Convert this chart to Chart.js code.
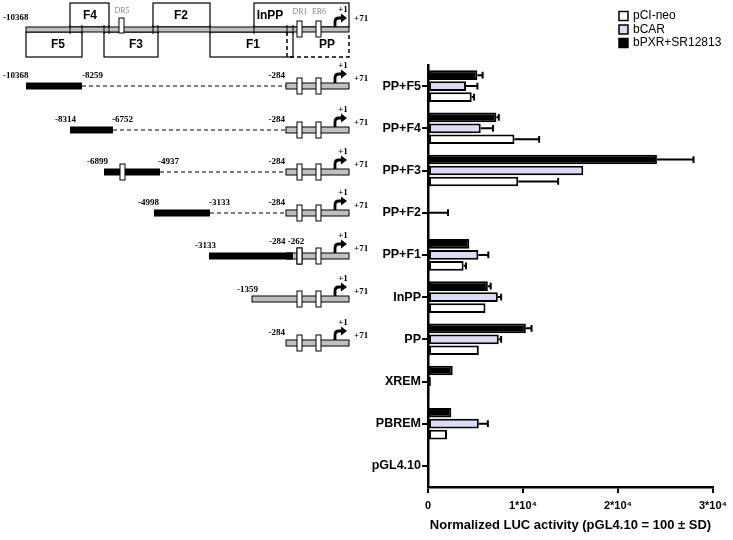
<!DOCTYPE html>
<html>
<head>
<meta charset="utf-8">
<script src="https://cdn.jsdelivr.net/npm/chart.js@4"></script>
<style>
  body { margin: 0; background: #fff; }
</style>
</head>
<body>
<canvas id="myChart" width="733" height="540"></canvas>
<script>
// data
const categories = ["PP+F5", "PP+F4", "PP+F3", "PP+F2", "PP+F1", "InPP", "PP", "XREM", "PBREM", "pGL4.10"];
const pciNeo = [4600, 9100, 9500, 100, 3750, 6050, 5350, 150, 2000, 100];
const pciNeoSd = [250, 2600, 4200, 0, 250, 0, 0, 0, 0, 0];
const bCar = [4000, 5550, 16350, 100, 5300, 7350, 7450, 300, 5350, 100];
const bCarSd = [1200, 1300, 0, 2000, 1050, 350, 250, 0, 950, 0];
const bPxr = [5200, 7200, 24100, 100, 4350, 6300, 10300, 2600, 2450, 100];
const bPxrSd = [550, 250, 3850, 0, 0, 300, 600, 0, 0, 0];
const xTicks = [0, 10000, 20000, 30000];

const sans = "'Liberation Sans', Arial, sans-serif";
const serif = "'Liberation Serif', 'Times New Roman', serif";

// error bars (positive side only, with cap)
const errorBars = {
  id: "errorBars",
  afterDatasetsDraw(chart) {
    const ctx = chart.ctx;
    const x = chart.scales.x;
    ctx.save();
    ctx.strokeStyle = "#000";
    ctx.lineWidth = 2;
    chart.data.datasets.forEach((ds, i) => {
      const meta = chart.getDatasetMeta(i);
      meta.data.forEach((bar, j) => {
        const sd = ds.sd[j];
        if (!sd) return;
        const x1 = x.getPixelForValue(ds.data[j]);
        const x2 = x.getPixelForValue(ds.data[j] + sd);
        const h = bar.height * 0.7;
        ctx.beginPath();
        ctx.moveTo(x1, bar.y);
        ctx.lineTo(x2, bar.y);
        ctx.moveTo(x2, bar.y - h / 2);
        ctx.lineTo(x2, bar.y + h / 2);
        ctx.stroke();
      });
    });
    ctx.restore();
  },
};

// legend, top right
const boxLegend = {
  id: "boxLegend",
  afterDraw(chart) {
    const ctx = chart.ctx;
    const items = [
      ["pCI-neo", "#ffffff"],
      ["bCAR", "#dcdcf6"],
      ["bPXR+SR12813", "#000000"],
    ];
    ctx.save();
    ctx.font = "12px " + sans;
    ctx.textBaseline = "middle";
    items.forEach((it, k) => {
      const y = 16 + k * 13.5;
      ctx.fillStyle = it[1];
      ctx.fillRect(619, y - 4.5, 9, 9);
      ctx.strokeStyle = "#000";
      ctx.lineWidth = 1.5;
      ctx.strokeRect(619, y - 4.5, 9, 9);
      ctx.fillStyle = "#000";
      ctx.fillText(it[0], 633, y);
    });
    ctx.restore();
  },
};

// construct diagram on the left
function ppSegment(ctx, y, from) {
  ctx.fillStyle = "#c0c0c0";
  ctx.strokeStyle = "#000";
  ctx.lineWidth = 1;
  ctx.fillRect(from, y - 3, 349 - from, 6);
  ctx.strokeRect(from, y - 3, 349 - from, 6);
  [297, 316].forEach(bx => {
    ctx.fillStyle = "#fff";
    ctx.fillRect(bx, y - 8, 5, 16);
    ctx.strokeRect(bx, y - 8, 5, 16);
  });
  arrow(ctx, y - 3);
  ctx.fillStyle = "#000";
  ctx.font = "bold 9px " + serif;
  ctx.textAlign = "center";
  ctx.fillText("+1", 343, y - 20);
  ctx.textAlign = "left";
  ctx.fillText("+71", 354, y - 7);
}

function arrow(ctx, top) {
  ctx.save();
  ctx.strokeStyle = "#000";
  ctx.fillStyle = "#000";
  ctx.lineWidth = 2.8;
  ctx.beginPath();
  ctx.moveTo(335, top);
  ctx.lineTo(335, top - 5);
  ctx.quadraticCurveTo(335, top - 9, 339, top - 9);
  ctx.lineTo(342, top - 9);
  ctx.stroke();
  ctx.beginPath();
  ctx.moveTo(347, top - 9);
  ctx.lineTo(341, top - 13.5);
  ctx.lineTo(341, top - 4.5);
  ctx.closePath();
  ctx.fill();
  ctx.restore();
}

function txt(ctx, s, x, y, align) {
  ctx.textAlign = align || "left";
  ctx.fillText(s, x, y);
}

const diagram = {
  id: "diagram",
  afterDraw(chart) {
    const ctx = chart.ctx;
    ctx.save();
    ctx.textBaseline = "middle";

    // genome map
    ctx.strokeStyle = "#000";
    ctx.lineWidth = 1.2;
    [[70, 109], [153, 210], [254, 349]].forEach(b => ctx.strokeRect(b[0], 3, b[1] - b[0], 24));
    [[26, 82], [104, 158], [210, 293]].forEach(b => ctx.strokeRect(b[0], 32, b[1] - b[0], 25));
    ctx.setLineDash([4, 3]);
    ctx.lineWidth = 1.5;
    ctx.beginPath();
    ctx.moveTo(287, 32); ctx.lineTo(287, 57); ctx.lineTo(349, 57); ctx.lineTo(349, 32);
    ctx.stroke();
    ctx.setLineDash([]);
    ctx.fillStyle = "#c0c0c0";
    ctx.lineWidth = 1;
    ctx.fillRect(26, 27, 323, 5);
    ctx.strokeRect(26, 27, 323, 5);
    ctx.beginPath();
    [70, 82, 104, 109, 153, 158, 210, 254, 287, 293].forEach(t => {
      ctx.moveTo(t, 25); ctx.lineTo(t, 34);
    });
    ctx.stroke();
    ctx.fillStyle = "#fff";
    ctx.fillRect(119, 18, 5, 15); ctx.strokeRect(119, 18, 5, 15);
    ctx.fillRect(297, 21, 5, 16); ctx.strokeRect(297, 21, 5, 16);
    ctx.fillRect(316, 21, 5, 16); ctx.strokeRect(316, 21, 5, 16);
    arrow(ctx, 27);

    ctx.fillStyle = "#000";
    ctx.font = "bold 12px " + sans;
    txt(ctx, "F4", 90, 16, "center");
    txt(ctx, "F2", 181, 16, "center");
    txt(ctx, "InPP", 270, 16, "center");
    txt(ctx, "F5", 58, 45, "center");
    txt(ctx, "F3", 136, 45, "center");
    txt(ctx, "F1", 253, 45, "center");
    txt(ctx, "PP", 327, 45, "center");
    ctx.font = "8px " + serif;
    ctx.fillStyle = "#888";
    txt(ctx, "DR5", 122, 11, "center");
    txt(ctx, "DR1", 300, 12, "center");
    txt(ctx, "ER6", 319, 12, "center");
    ctx.fillStyle = "#000";
    ctx.font = "bold 9px " + serif;
    txt(ctx, "+1", 343, 10, "center");
    txt(ctx, "-10368", 3, 18);
    txt(ctx, "+71", 354, 19);

    // construct rows: [y, fragment start, fragment end, labels]
    const rows = [
      [86, 26, 82, [["-10368", 3, -10], ["-8259", 82, -10]]],
      [130, 70, 113, [["-8314", 55, -10], ["-6752", 112, -10]]],
      [172, 104, 160, [["-6899", 87, -10], ["-4937", 158, -10]]],
      [213, 154, 210, [["-4998", 138, -10], ["-3133", 209, -10]]],
      [256, 209, 293, [["-3133", 195, -10]]],
    ];
    rows.forEach(r => {
      const y = r[0];
      if (r[2] < 286) {
        ctx.strokeStyle = "#000";
        ctx.lineWidth = 1;
        ctx.setLineDash([4, 3]);
        ctx.beginPath();
        ctx.moveTo(r[2], y); ctx.lineTo(286, y);
        ctx.stroke();
        ctx.setLineDash([]);
      }
      ppSegment(ctx, y, 286);
      ctx.fillStyle = "#000";
      ctx.fillRect(r[1], y - 3.5, r[2] - r[1], 7);
      if (y === 172) {
        ctx.fillStyle = "#fff";
        ctx.fillRect(120, y - 8, 5, 16);
        ctx.strokeRect(120, y - 8, 5, 16);
      }
      if (y === 256) {
        ctx.fillStyle = "#fff";
        ctx.fillRect(297, y - 8, 5, 16);
        ctx.strokeRect(297, y - 8, 5, 16);
      }
      ctx.fillStyle = "#000";
      ctx.font = "bold 9px " + serif;
      r[3].forEach(l => txt(ctx, l[0], l[1], y + l[2]));
      if (y === 256) {
        txt(ctx, "-284 -262", 269, y - 14);
      } else {
        txt(ctx, "-284", 285, y - 10, "right");
      }
    });
    ppSegment(ctx, 299, 252);
    ctx.fillStyle = "#000";
    txt(ctx, "-1359", 237, 290);
    ppSegment(ctx, 343, 286);
    ctx.fillStyle = "#000";
    txt(ctx, "-284", 285, 333, "right");
    ctx.restore();
  },
};

const ctx = document.getElementById("myChart");

new Chart(ctx, {
  type: "bar",
  data: {
    labels: categories,
    datasets: [
      { label: "bPXR+SR12813", data: bPxr, sd: bPxrSd, backgroundColor: "#000000" },
      { label: "bCAR", data: bCar, sd: bCarSd, backgroundColor: "#dcdcf6" },
      { label: "pCI-neo", data: pciNeo, sd: pciNeoSd, backgroundColor: "#ffffff" },
    ].map(d => Object.assign(d, {
      borderColor: "#000",
      borderWidth: 2,
      borderSkipped: false,
      categoryPercentage: 0.78,
      barPercentage: 0.88,
    })),
  },
  options: {
    indexAxis: "y",
    responsive: false,
    animation: false,
    layout: { padding: { top: 65, right: 16, left: 0, bottom: 0 } },
    plugins: {
      legend: { display: false },
      tooltip: { enabled: false },
    },
    scales: {
      y: {
        afterFit: s => { s.width = 428; },
        grid: { offset: false, drawOnChartArea: false, tickLength: 6, color: "#000", lineWidth: 2 },
        border: { color: "#000", width: 2.5 },
        ticks: { color: "#000", padding: 1, font: { family: sans, size: 12.5, weight: "bold" } },
      },
      x: {
        min: 0,
        max: 30000,
        afterFit: s => { s.height = 53; },
        afterBuildTicks: s => { s.ticks = xTicks.map(v => ({ value: v })); },
        grid: { drawOnChartArea: false, tickLength: 6, color: "#000", lineWidth: 2 },
        border: { color: "#000", width: 2.5 },
        ticks: {
          color: "#000",
          padding: 6,
          font: { family: sans, size: 11, weight: "bold" },
          callback: v => (v === 0 ? "0" : v / 10000 + "*10\u2074"),
        },
        title: {
          display: true,
          text: "Normalized LUC activity (pGL4.10 = 100 \u00b1 SD)",
          color: "#000",
          padding: { top: 4, bottom: 7 },
          font: { family: sans, size: 13, weight: "bold" },
        },
      },
    },
  },
  plugins: [errorBars, boxLegend, diagram],
});
</script>
</body>
</html>
